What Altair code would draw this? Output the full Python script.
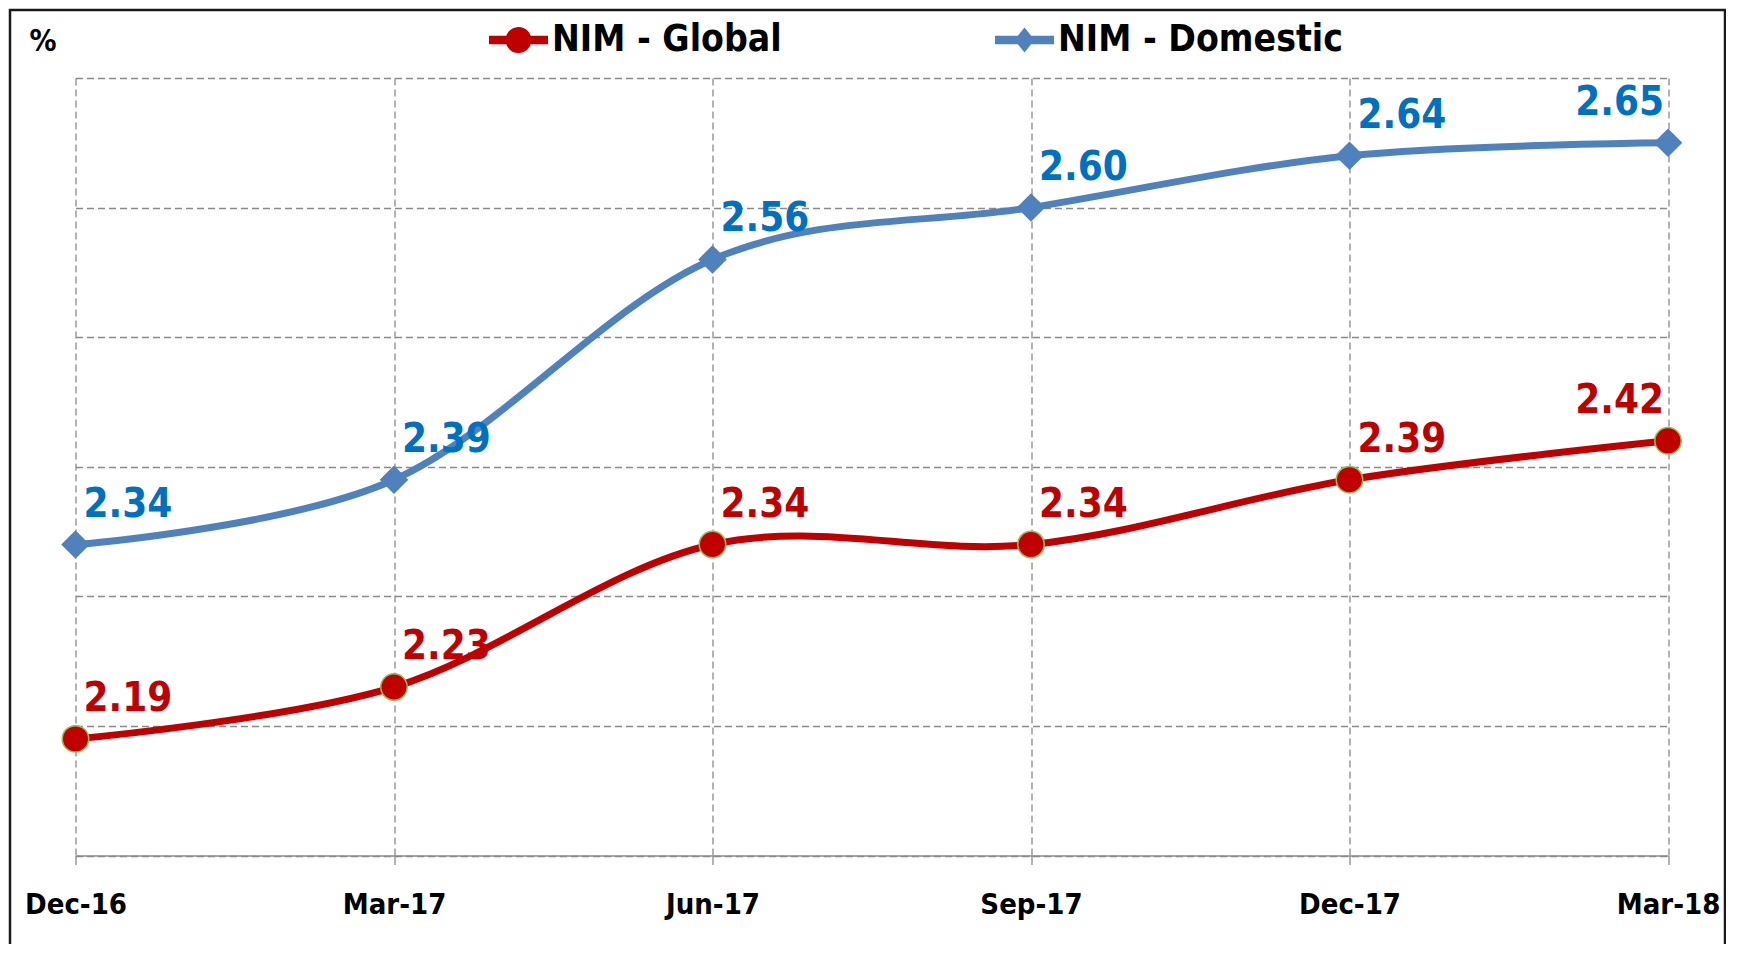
import altair as alt
import pandas as pd

# ---- data ----
periods = ["Dec-16", "Mar-17", "Jun-17", "Sep-17", "Dec-17", "Mar-18"]
nim_global = [2.19, 2.23, 2.34, 2.34, 2.39, 2.42]
nim_domestic = [2.34, 2.39, 2.56, 2.60, 2.64, 2.65]
series_names = ["NIM - Global", "NIM - Domestic"]
y_ticks = [2.1, 2.2, 2.3, 2.4, 2.5, 2.6, 2.7]

# ---- styles ----
FONT = "DejaVu Sans Condensed"
line_colors = ["#C00000", "#4F81BD"]
label_colors = ["#C00000", "#0070C0"]
GRID = "#8a8a8a"

rows = []
for p, g, d in zip(periods, nim_global, nim_domestic):
    rows.append({"period": p, "series": series_names[0], "value": g})
    rows.append({"period": p, "series": series_names[1], "value": d})
df = pd.DataFrame(rows)

GLOBAL_TEST = "datum.series === 'NIM - Global'"

# legend symbols: marker with a line stub through it (unit square -1..1)
sym_global = ("M-1,-0.14L1,-0.14L1,0.14L-1,0.14Z "
              "M0.44,0A0.44,0.44,0,1,1,-0.44,0A0.44,0.44,0,1,1,0.44,0Z")
sym_domestic = ("M-1,-0.14L1,-0.14L1,0.14L-1,0.14Z "
                "M0,-0.42L0.34,0L0,0.42L-0.34,0Z")

x_enc = alt.X(
    "period:N",
    sort=periods,
    scale=alt.Scale(type="point", padding=0),
    axis=alt.Axis(
        title=None, labelAngle=0, labelFont=FONT, labelFontSize=29,
        labelFontWeight="bold", labelColor="black", labelPadding=26,
        tickSize=9, tickColor=GRID, tickWidth=1.3,
        domainColor=GRID, domainWidth=1.6,
        grid=True, gridColor=GRID, gridDash=[7, 4], gridWidth=1.3,
    ),
)
y_enc = alt.Y(
    "value:Q",
    scale=alt.Scale(domain=[2.1, 2.7], nice=False, zero=False),
    axis=alt.Axis(
        values=y_ticks, labels=False, ticks=False, domain=False,
        grid=True, gridColor=GRID, gridDash=[7, 4], gridWidth=1.3,
        title="%", titleAngle=0, titleX=-46.5, titleY=-28,
        titleAlign="left", titleBaseline="alphabetic",
        titleFont=FONT, titleFontSize=30, titleFontWeight="bold",
        titleColor="black",
    ),
)

base = alt.Chart(df).encode(x=x_enc, y=y_enc)

frame = alt.Chart(pd.DataFrame({"k": [0]})).mark_rect(
    fillOpacity=0, stroke="#1a1a1a", strokeWidth=2.5
).encode(
    x=alt.value(-65.5), x2=alt.value(1649.5),
    y=alt.value(-68), y2=alt.value(2000),
)

lines = base.mark_line(interpolate="cardinal", tension=0, strokeWidth=7).encode(
    color=alt.Color("series:N",
                    scale=alt.Scale(domain=series_names, range=line_colors),
                    legend=None),
)

points = base.mark_point(filled=True, opacity=1, size=700, strokeWidth=1.5).encode(
    fill=alt.Fill("series:N",
                  scale=alt.Scale(domain=series_names, range=line_colors),
                  legend=None),
    shape=alt.Shape("series:N",
                    scale=alt.Scale(domain=series_names, range=["circle", "diamond"]),
                    legend=None),
    stroke=alt.condition(GLOBAL_TEST, alt.value("#9BBB59"), alt.value("#4F81BD")),
)

common_legend = dict(
    title=None, orient="none", direction="horizontal",
    legendY=-67.5, padding=0, labelOffset=4,
    symbolSize=3481, symbolStrokeWidth=0, symbolOpacity=1,
    labelFont=FONT, labelFontSize=37, labelFontWeight="bold",
    labelColor="black", labelLimit=400,
)

# legend-only layers: invisible points, one legend entry each
legend_global = base.mark_point(filled=True, size=0, strokeWidth=0, opacity=1,
                                color=line_colors[0]).encode(
    shape=alt.Shape(
        "series:N",
        scale=alt.Scale(domain=series_names, range=[sym_global, sym_domestic]),
        legend=alt.Legend(values=[series_names[0]], legendX=413.5,
                          symbolFillColor=line_colors[0], **common_legend),
    ),
)

legend_domestic = base.mark_point(filled=True, size=0, strokeWidth=0, opacity=1,
                                  color=line_colors[1]).encode(
    opacity=alt.Opacity(
        "series:N",
        scale=alt.Scale(domain=series_names[::-1], range=[1, 1]),
        legend=alt.Legend(values=[series_names[1]], legendX=919.5,
                          symbolType=sym_domestic,
                          symbolFillColor=line_colors[1], **common_legend),
    ),
)

label_color = alt.condition(GLOBAL_TEST, alt.value(label_colors[0]), alt.value(label_colors[1]))

labels_main = base.mark_text(
    font=FONT, fontSize=40, fontWeight="bold", align="left",
    baseline="middle", dx=8, dy=-40,
).encode(
    text=alt.Text("value:Q", format=".2f"),
    color=label_color,
).transform_filter("datum.period !== 'Mar-18'")

labels_last = base.mark_text(
    font=FONT, fontSize=40, fontWeight="bold", align="right",
    baseline="middle", dx=-4, dy=-40,
).encode(
    text=alt.Text("value:Q", format=".2f"),
    color=label_color,
).transform_filter("datum.period === 'Mar-18'")

chart = alt.layer(
    frame, lines, points, legend_global, legend_domestic, labels_main, labels_last
).resolve_scale(shape="independent").properties(
    width=1592.5,
    height=777.5,
    autosize=alt.AutoSizeParams(type="none"),
    padding={"left": 67.5, "top": 70, "right": 58, "bottom": 88},
    background="white",
).configure_view(stroke=None)

chart.save("out.html", embed_options={"renderer": "svg", "actions": False})
